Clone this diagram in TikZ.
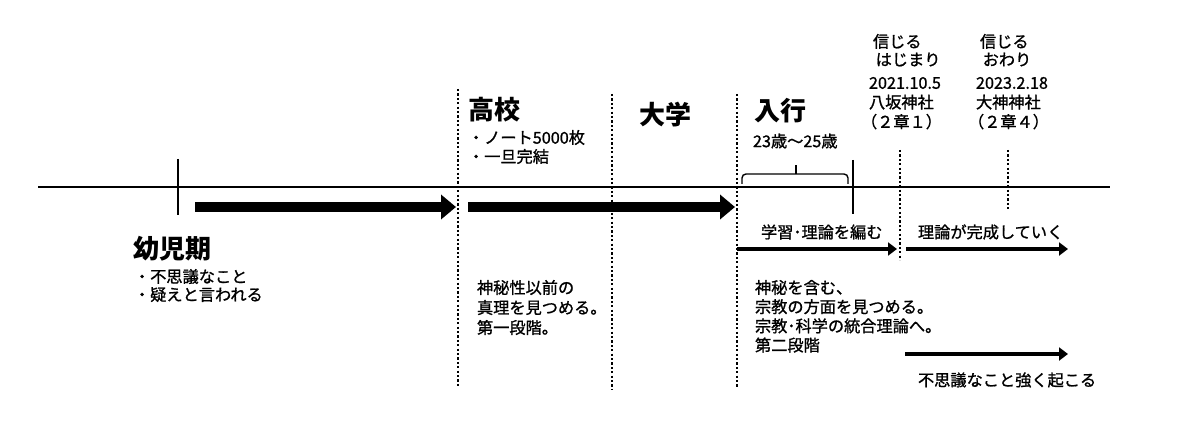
\documentclass[tikz,border=0pt]{standalone}
\usepackage{fontspec}
\setmainfont{Noto Sans CJK JP}
\newfontfamily\medf{Noto Sans CJK JP}[FakeBold=1.1]
\usetikzlibrary{arrows.meta}
\newcommand{\fsz}[2]{\fontsize{#1}{#2}\selectfont}
\tikzset{
  txt/.style={inner sep=0pt, outer sep=0pt, text=black},
  head/.style={txt, anchor=west, font=\fsz{26}{30}\bfseries},
  small/.style={txt, anchor=west, font=\medf\fsz{16.2}{19}},
  blockl/.style={txt, anchor=north west, align=left},
  axis/.style={line width=2.2pt},
  tickline/.style={line width=2.2pt},
  bigarrow/.style={line width=10pt, -{Triangle[length=15pt,width=24pt]}},
  thinarrow/.style={line width=4.5pt, -{Triangle[length=9pt,width=13pt]}},
  dotline/.style={line width=2.4pt, dash pattern=on 2.2pt off 2.2pt},
  bracel/.style={line width=1.4pt, rounded corners=4pt}
}
\begin{document}
\begin{tikzpicture}[x=1pt,y=-1pt]
\useasboundingbox (0,0) rectangle (1200,425);
% axis
\coordinate (axL) at (38,187);
\coordinate (axR) at (1110,187);
\draw[axis] (axL) -- (axR);
% ticks
\coordinate (t1a) at (178,159); \coordinate (t1b) at (178,215);
\draw[tickline] (t1a) -- (t1b);
\coordinate (t2a) at (853,160); \coordinate (t2b) at (853,214);
\draw[tickline] (t2a) -- (t2b);
% dotted lines
\coordinate (d1a) at (458,89);  \coordinate (d1b) at (458,386);
\coordinate (d2a) at (612,94);  \coordinate (d2b) at (612,390);
\coordinate (d3a) at (737,94);  \coordinate (d3b) at (737,388);
\coordinate (d4a) at (900,150); \coordinate (d4b) at (900,260);
\coordinate (d5a) at (1008,150); \coordinate (d5b) at (1008,210);
\foreach \n in {1,...,5} {\draw[dotline] (d\n a) -- (d\n b);}
% big arrows
\coordinate (b1s) at (195,207); \coordinate (b1e) at (456,207);
\coordinate (b2s) at (468,207); \coordinate (b2e) at (735,207);
\draw[bigarrow] (b1s) -- (b1e);
\draw[bigarrow] (b2s) -- (b2e);
% thin arrows
\coordinate (a1s) at (737,249); \coordinate (a1e) at (897,249);
\coordinate (a2s) at (906,249); \coordinate (a2e) at (1068,249);
\coordinate (a3s) at (905,354); \coordinate (a3e) at (1068,354);
\draw[thinarrow] (a1s) -- (a1e);
\draw[thinarrow] (a2s) -- (a2e);
\draw[thinarrow] (a3s) -- (a3e);
% brace
\coordinate (brL) at (742,184); \coordinate (brM) at (796,174);
\coordinate (brT) at (796,165); \coordinate (brR) at (848,184);
\draw[bracel] (brL) |- (brM) -| (brR);
\draw[line width=1.4pt] (brM) -- (brT);
% texts
\node[head] (yoji) at (133,249) {幼児期};
\node[blockl, font=\medf\fsz{16.2}{18}] (yojil) at (134,269) {・不思議なこと\\・疑えと言われる};
\node[head] (koko) at (468,110) {高校};
\node[blockl, font=\medf\fsz{16.2}{19}] (kokol) at (468,130) {・ノート5000枚\\・一旦完結};
\node[head] (daigaku) at (639,115) {大学};
\node[head] (nyugyo) at (754,111) {入行};
\node[small] (age) at (753,141) {23歳～25歳};
\node[blockl, font=\medf\fsz{16.2}{18}] (hajime) at (873,34) {信じる\\\,はじまり};
\node[blockl, font=\medf\fsz{16.2}{19.5}] (hajimed) at (869,77) {2021.10.5\\八坂神社\\\hspace*{-8pt}（２章１）};
\node[blockl, font=\medf\fsz{16.2}{18}] (owari) at (980,34) {信じる\\\,おわり};
\node[blockl, font=\medf\fsz{16.2}{19.5}] (owarid) at (976,77) {2023.2.18\\大神神社\\\hspace*{-8pt}（２章４）};
\node[blockl, font=\medf\fsz{16.2}{20}] (dan1) at (477,280) {神秘性以前の\\真理を見つめる。\\第一段階。};
\node[small] (gakushu) at (761,232) {学習･理論を編む};
\node[small] (kansei) at (918,232) {理論が完成していく};
\node[blockl, font=\medf\fsz{16.2}{19.2}] (dan2) at (755,280) {神秘を含む、\\宗教の方面を見つめる。\\宗教･科学の統合理論へ。\\第二段階};
\node[small] (fushigi) at (918,380) {不思議なこと強く起こる};
\end{tikzpicture}
\end{document}
